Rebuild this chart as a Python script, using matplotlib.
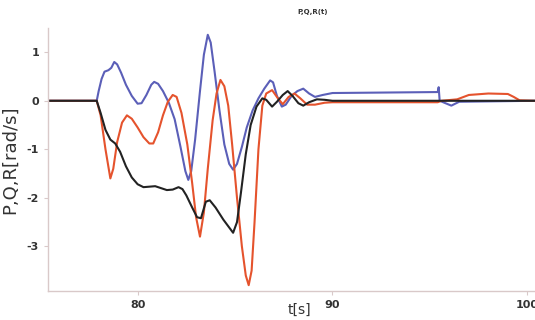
import matplotlib
matplotlib.use("Agg")
import matplotlib.pyplot as plt

# traced values (t in s, rates in rad/s)
t_p = [75.4, 77.9, 78.1, 78.35, 78.6, 78.85, 79.1, 79.4, 79.7, 80.0, 80.3, 80.6, 80.9,
       81.2, 81.5, 81.8, 82.1, 82.3, 82.5, 82.8, 83.05, 83.25, 83.5, 83.7, 84.0, 84.4,
       84.9, 85.1, 85.3, 85.55, 85.8, 86.1, 86.4, 86.6, 86.9, 87.15, 87.45, 87.7, 87.95,
       88.25, 88.5, 88.8, 89.2, 89.6, 90.0, 100.4]
p = [0, 0, -0.25, -0.6, -0.8, -0.88, -1.05, -1.35, -1.58, -1.72, -1.78, -1.77, -1.76,
     -1.8, -1.84, -1.83, -1.78, -1.82, -1.95, -2.2, -2.4, -2.42, -2.08, -2.05, -2.2, -2.45,
     -2.72, -2.5, -1.9, -1.1, -0.5, -0.12, 0.05, 0.02, -0.12, -0.02, 0.12, 0.2, 0.1,
     -0.05, -0.1, -0.03, 0.03, 0.02, 0.0, 0.0]

t_q = [75.4, 77.9, 78.0, 78.15, 78.3, 78.5, 78.65, 78.8, 78.95, 79.15, 79.4, 79.7, 80.0,
       80.2, 80.45, 80.7, 80.85, 81.05, 81.3, 81.6, 81.9, 82.2, 82.45, 82.6, 82.75, 82.95,
       83.2, 83.4, 83.6, 83.75, 83.95, 84.2, 84.45, 84.7, 84.9, 85.1, 85.35, 85.6, 85.9,
       86.2, 86.5, 86.8, 86.95, 87.15, 87.4, 87.6, 87.9, 88.2, 88.5, 88.8, 89.1, 89.5,
       90.0, 95.4, 95.45, 95.5, 95.8, 96.1, 96.5, 100.4]
q = [0, 0, 0.2, 0.45, 0.6, 0.63, 0.68, 0.8, 0.75, 0.58, 0.33, 0.1, -0.06,
     -0.05, 0.12, 0.33, 0.39, 0.35, 0.2, -0.04, -0.38, -0.95, -1.45, -1.63, -1.45, -0.8,
     0.2, 0.95, 1.36, 1.2, 0.6, -0.2, -0.9, -1.3, -1.42, -1.3, -0.95, -0.55, -0.2,
     0.05, 0.25, 0.42, 0.38, 0.1, -0.12, -0.08, 0.1, 0.2, 0.25, 0.15, 0.08, 0.12,
     0.16, 0.18, 0.28, 0.0, -0.05, -0.1, -0.02, 0.0]

t_r = [75.4, 77.9, 78.1, 78.35, 78.6, 78.75, 78.95, 79.2, 79.45, 79.7, 80.0, 80.3, 80.6,
       80.8, 81.05, 81.3, 81.55, 81.8, 82.0, 82.25, 82.55, 82.8, 83.0, 83.2, 83.4, 83.6,
       83.85, 84.05, 84.25, 84.45, 84.65, 84.85, 85.1, 85.35, 85.55, 85.7, 85.85, 86.0,
       86.2, 86.4, 86.6, 86.9, 87.2, 87.45, 87.75, 88.05, 88.35, 88.7, 89.1, 89.6, 90.0,
       95.4, 95.6, 96.4, 97.0, 98.0, 99.0, 99.3, 99.6, 100.4]
r = [0, 0, -0.3, -1.0, -1.6, -1.4, -0.85, -0.45, -0.3, -0.37, -0.55, -0.75, -0.88,
     -0.88, -0.65, -0.3, -0.02, 0.12, 0.08, -0.25, -0.9, -1.7, -2.4, -2.8, -2.3, -1.4,
     -0.4, 0.15, 0.43, 0.3, -0.1, -0.9, -2.0, -3.0, -3.6, -3.8, -3.5, -2.5,
     -1.0, -0.1, 0.15, 0.22, 0.05, -0.07, 0.08, 0.15, 0.05, -0.08, -0.08, -0.04, -0.03,
     -0.03, 0.0, 0.03, 0.12, 0.15, 0.14, 0.08, 0.01, 0.0]

plt.rcParams["axes.unicode_minus"] = False

fig = plt.figure(figsize=(5.35, 3.2), dpi=100)
ax = fig.add_axes([48 / 535, 29 / 320, 530 / 535, 263 / 320])

style = dict(lw=1.5, solid_joinstyle="round", solid_capstyle="round")
ax.plot(t_q, q, color="#5b5fb8", **style)
ax.plot(t_r, r, color="#e5532d", **style)
ax.plot(t_p, p, color="#222222", **style)

ax.set_xlim(75.4, 102.6)
ax.set_ylim(-3.92, 1.5)
ax.set_xticks([80, 90, 100])
ax.set_yticks([1, 0, -1, -2, -3])

for s in ["top", "right"]:
    ax.spines[s].set_visible(False)
for s in ["left", "bottom"]:
    ax.spines[s].set_color("#d9c9c9")
    ax.spines[s].set_linewidth(1.0)
ax.tick_params(colors="#d9c9c9", labelcolor="#333333", length=3, labelsize=8)
for lab in ax.get_xticklabels() + ax.get_yticklabels():
    lab.set_fontweight("bold")

ax.set_title("P,Q,R(t)", fontsize=5, fontweight="bold", color="#333333", pad=10)
ax.set_ylabel("P,Q,R[rad/s]", fontsize=13, color="#333333")
ax.yaxis.set_label_coords(-0.055, 0.5)
ax.set_xlabel("t[s]", fontsize=10, color="#333333")
ax.xaxis.set_label_coords(0.475, -0.045)

fig.savefig("out.png", dpi=100)
